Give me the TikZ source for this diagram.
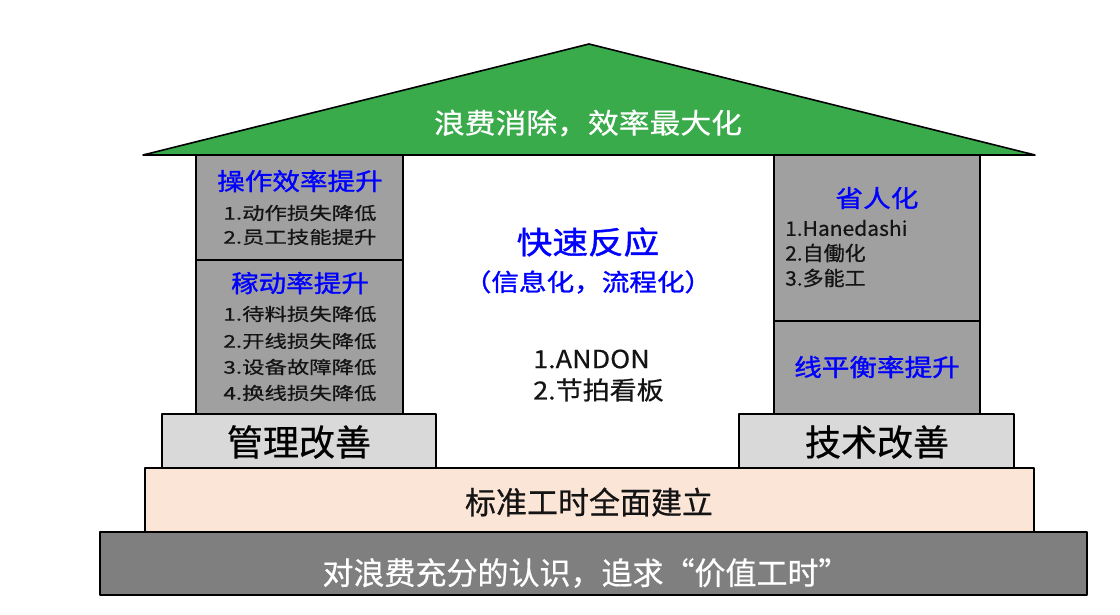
\documentclass[tikz,border=0pt]{standalone}
\usepackage{fontspec}
\setmainfont{Noto Sans CJK SC}
\newfontfamily\fRoof[FakeStretch=1.10,FakeBold=0.6]{Noto Sans CJK SC}
\newfontfamily\fHead[FakeStretch=1.15,FakeBold=1.2]{Noto Sans CJK SC}
\newfontfamily\fItemL[FakeStretch=1.28,FakeBold=0.6]{Noto Sans CJK SC}
\newfontfamily\fItemR[FakeStretch=1.05,FakeBold=0.6]{Noto Sans CJK SC}
\newfontfamily\fMid[FakeStretch=1.08,FakeBold=0.6]{Noto Sans CJK SC}
\newfontfamily\fBase[FakeBold=0.6]{Noto Sans CJK SC}
\definecolor{roofgreen}{RGB}{58,171,75}
\definecolor{pillar}{RGB}{160,160,160}
\definecolor{plinth}{RGB}{217,217,217}
\definecolor{peach}{RGB}{251,229,214}
\definecolor{basegray}{RGB}{127,127,127}
\definecolor{headblue}{RGB}{0,0,255}
\definecolor{ink}{RGB}{20,20,20}
\begin{document}
\begin{tikzpicture}[x=1pt,y=-1pt,
  outl/.style={draw=black,line width=1.6pt,line join=round},
  txt/.style={inner sep=0pt,anchor=center},
  head/.style={txt,text=headblue,font=\fHead\fontsize{24}{24}\selectfont},
  iteml/.style={txt,text=ink,font=\fItemL\fontsize{17.5}{17.5}\selectfont},
  itemr/.style={txt,anchor=west,text=ink,font=\fItemR\fontsize{20}{20}\selectfont},
  plinthtxt/.style={txt,text=black,font=\fBase\fontsize{36}{36}\selectfont}]
\useasboundingbox[fill=white] (0,0) rectangle (1120,614);
% roof
\filldraw[outl,fill=roofgreen] (143,155) -- (589,44) -- (1035,155) -- cycle;
% pillars
\filldraw[outl,fill=pillar] (196,155) rectangle (403,260);
\filldraw[outl,fill=pillar] (196,260) rectangle (403,414);
\filldraw[outl,fill=pillar] (774,155) rectangle (980,321);
\filldraw[outl,fill=pillar] (774,321) rectangle (980,414);
% plinths
\filldraw[outl,fill=plinth] (162,414) rectangle (436,468);
\filldraw[outl,fill=plinth] (739,414) rectangle (1014,468);
% bases
\filldraw[outl,fill=peach] (145,468) rectangle (1034,532);
\filldraw[outl,fill=basegray] (100,532) rectangle (1087,595);
% roof text
\node[txt,text=white,font=\fRoof\fontsize{28}{28}\selectfont] (roofT) at (588,123) {浪费消除，效率最大化};
% left pillar, upper
\node[head] (h1) at (300,181) {操作效率提升};
\node[iteml] (h1a) at (300,213) {1.动作损失降低};
\node[iteml] (h1b) at (300,237) {2.员工技能提升};
% left pillar, lower
\node[head] (h2) at (300,283) {稼动率提升};
\node[iteml] (h2a) at (300,314) {1.待料损失降低};
\node[iteml] (h2b) at (300,341) {2.开线损失降低};
\node[iteml] (h2c) at (300,367) {3.设备故障降低};
\node[iteml] (h2d) at (300,393) {4.换线损失降低};
% right pillar
\node[head] (h3) at (877,198) {省人化};
\node[itemr] (h3a) at (785,228) {1.Hanedashi};
\node[itemr] (h3b) at (785,253) {2.自働化};
\node[itemr] (h3c) at (785,278) {3.多能工};
\node[head] (h4) at (877,367) {线平衡率提升};
% centre
\node[txt,text=headblue,font=\fHead\fontsize{31}{31}\selectfont] (mid) at (588,242) {快速反应};
\node[head] (midp) at (588,282) {（信息化，流程化）};
\node[txt,anchor=west,text=ink,font=\fMid\fontsize{25}{25}\selectfont] (mida) at (533,359) {1.ANDON};
\node[txt,anchor=west,text=ink,font=\fMid\fontsize{25}{25}\selectfont] (midb) at (533,390) {2.节拍看板};
% plinth texts
\node[plinthtxt] (mgmt) at (299,442) {管理改善};
\node[plinthtxt] (tech) at (877,442) {技术改善};
% base texts
\node[txt,text=ink,font=\fBase\fontsize{31}{31}\selectfont] (std) at (589,502) {标准工时全面建立};
\node[txt,text=white,font=\fBase\fontsize{31}{31}\selectfont] (found) at (586,573) {对浪费充分的认识，追求“价值工时”};
\end{tikzpicture}
\end{document}
